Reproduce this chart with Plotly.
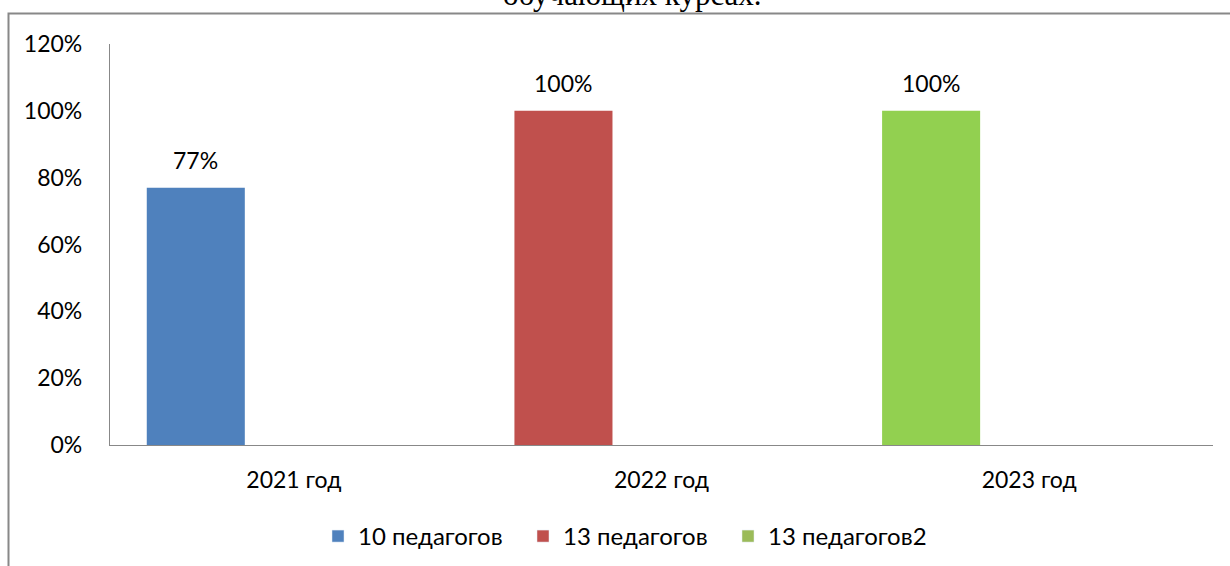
import plotly.graph_objects as go

categories = ["2021 год", "2022 год", "2023 год"]
series_names = ["10 педагогов", "13 педагогов", "13 педагогов2"]
series_values = [0.77, 1.00, 1.00]
series_colors = ["#4F81BD", "#C0504D", "#92D050"]
legend_colors = ["#4F81BD", "#C0504D", "#9BBB59"]
y_ticks = [0, 0.2, 0.4, 0.6, 0.8, 1.0, 1.2]
title_text = "обучающих курсах."

FONT = "Lato"
BAR_OFFSET = -0.4
BAR_WIDTH = 0.8 / 3

fig = go.Figure()
for i, (name, val, col) in enumerate(zip(series_names, series_values, series_colors)):
    fig.add_trace(go.Bar(
        x=[categories[i]], y=[val], name=name,
        marker=dict(color=col, line=dict(width=0)),
        offset=BAR_OFFSET, width=BAR_WIDTH, showlegend=False,
    ))
    fig.add_annotation(
        x=i + BAR_OFFSET + BAR_WIDTH / 2, y=val, xref="x", yref="y",
        text=f"{round(val*100)}%", showarrow=False, yanchor="bottom", yshift=12,
        font=dict(family=FONT, size=23, color="#000000"),
    )

for name, col in zip(series_names, legend_colors):
    fig.add_trace(go.Bar(x=[None], y=[None], name=name,
                         marker=dict(color=col), showlegend=True))

fig.add_annotation(
    x=(632 - 110) / 1103, y=1 + (44 + 6) / 401, xref="paper", yref="paper",
    text=title_text, showarrow=False, yanchor="middle",
    font=dict(family="Liberation Serif", size=31, color="#000000"),
)

fig.add_shape(type="rect", xref="paper", yref="paper",
              x0=(8.5 - 110) / 1103, x1=1.1, y0=-0.5, y1=1 + (44 - 13.5) / 401,
              line=dict(color="#888888", width=2), fillcolor="rgba(0,0,0,0)", layer="below")

fig.update_layout(
    width=1230, height=566,
    margin=dict(l=110, r=17, t=44, b=121, autoexpand=False),
    paper_bgcolor="white", plot_bgcolor="white",
    barmode="overlay",
    font=dict(family=FONT, size=23, color="#000000"),
    xaxis=dict(type="category", categoryorder="array", categoryarray=categories,
               range=[-0.5, 2.5], showline=True, linecolor="#888888", linewidth=1.2,
               ticks="", showgrid=False, tickfont=dict(size=23), ticklabelstandoff=14),
    yaxis=dict(range=[0, 1.2], tickvals=y_ticks, tickformat=".0%", showline=True,
               linecolor="#888888", linewidth=1.2, ticks="", showgrid=False,
               zeroline=False, tickfont=dict(size=23), ticklabelstandoff=22),
    legend=dict(orientation="h", x=(318 - 110) / 1103, xanchor="left", y=-0.172, yanchor="top",
                font=dict(size=24), entrywidth=160, entrywidthmode="pixels",
                traceorder="normal"),
)

fig.write_html("out.html", config={"displayModeBar": False},
               post_script="document.body.style.margin='0';")
